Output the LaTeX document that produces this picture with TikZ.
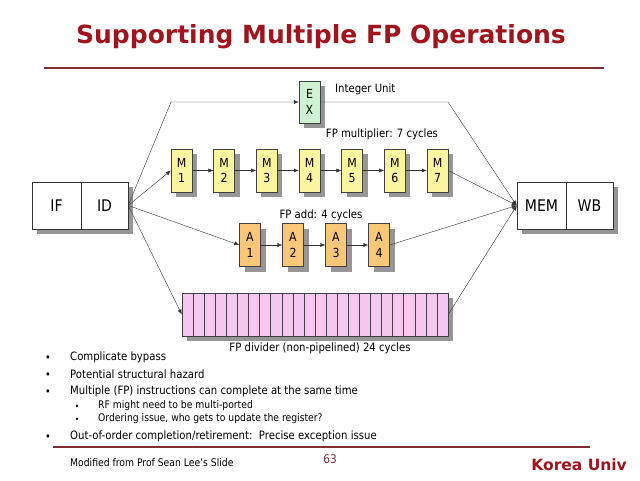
\documentclass[tikz,border=0pt]{standalone}
\usepackage{fontspec}
\setmainfont{DejaVu Sans}[FakeStretch=0.88]
\newfontfamily\headfont{DejaVu Sans}
\usetikzlibrary{shadows,arrows.meta}
\definecolor{titlered}{RGB}{160,20,30}
\definecolor{rulered}{RGB}{130,45,50}
\definecolor{exgreen}{RGB}{206,242,210}
\definecolor{mulyellow}{RGB}{250,246,160}
\definecolor{addorange}{RGB}{248,200,120}
\definecolor{divpink}{RGB}{245,200,242}
\definecolor{shadowgray}{RGB}{150,150,150}

\tikzset{
  boxshadow/.style={drop shadow={shadow xshift=5pt, shadow yshift=-5pt, fill=shadowgray, opacity=1}},
  unit/.style={draw=black!75, boxshadow, minimum width=21pt, minimum height=43pt, inner sep=0pt, align=center, font=\fontsize{12.5}{15.5}\selectfont},
  stage/.style={draw=black!80, fill=white, boxshadow, minimum height=47pt, inner sep=0pt, font=\fontsize{16}{18}\selectfont},
  flow/.style={black!80, -{Latex[length=5pt,width=4pt]}},
  link/.style={black!80},
  lbl/.style={font=\fontsize{11.5}{13}\selectfont, inner sep=0pt},
  item/.style={anchor=west, inner sep=0pt, font=\fontsize{11.5}{13}\selectfont},
  subitem/.style={anchor=west, inner sep=0pt, font=\fontsize{10.5}{12}\selectfont},
}

\begin{document}
\begin{tikzpicture}[x=1pt, y=-1pt]
    \useasboundingbox (0,0) rectangle (640,480);

    % Title
    \node (title) [titlered, font=\fontsize{25}{30}\headfont\bfseries] at (321,37) {Supporting Multiple FP Operations};
    \draw[rulered, line width=1.2pt] (44,68) -- (604,68);

    % Front and back stages
    \node (if) [stage, minimum width=49pt] at (56.5,205.5) {IF};
    \node (id) [stage, minimum width=47pt] at (104.5,205.5) {ID};
    \node (mem) [stage, minimum width=49pt] at (541.5,205.5) {MEM};
    \node (wb) [stage, minimum width=47pt] at (589.5,205.5) {WB};

    % Integer unit
    \node (ex) [unit, fill=exgreen, minimum height=42pt] at (309.5,102) {E\\X};
    \coordinate (exin) at (171,102);
    \coordinate (exout) at (448,102);
    \draw[flow] (id.east) -- (exin) -- (ex.west);
    \draw[flow] (ex.east) -- (exout) -- (mem.west);
    \node (intlbl) [lbl, anchor=west] at (335,89) {Integer Unit};

    % FP multiplier
    \foreach \i in {1,...,7}
        \node (m\i) [unit, fill=mulyellow] at ({181.5+(\i-1)*42.67},170.5) {M\\\i};
    \foreach \i [evaluate=\i as \j using int(\i+1)] in {1,...,6}
        \draw[flow] (m\i.east) -- (m\j.west);
    \draw[flow] (id.east) -- (m1.west);
    \draw[flow] (m7.east) -- (mem.west);
    \node (mullbl) [lbl] at (382,134) {FP multiplier: 7 cycles};

    % FP adder
    \foreach \i in {1,...,4}
        \node (a\i) [unit, fill=addorange] at ({250+(\i-1)*43},245) {A\\\i};
    \foreach \i [evaluate=\i as \j using int(\i+1)] in {1,...,3}
        \draw[flow] (a\i.east) -- (a\j.west);
    \draw[flow] (id.east) -- (a1.west);
    \draw[flow] (a4.east) -- (mem.west);
    \node (addlbl) [lbl] at (321,215) {FP add: 4 cycles};

    % FP divider
    \node (div) [draw=black!75, fill=divpink, boxshadow, minimum width=266pt, minimum height=43pt, inner sep=0pt] at (315,314.5) {};
    \foreach \i in {1,...,23}
        \draw[black!75] ({182+\i*266/24},293) -- ({182+\i*266/24},336);
    \draw[flow] (id.east) -- (div.west);
    \draw[flow] (div.east) -- (mem.west);
    \node (divlbl) [lbl] at (320,348) {FP divider (non-pipelined) 24 cycles};

    % Notes
    \foreach \y in {357,374,391,436}
        \node (dot\y) [font=\fontsize{11}{12}\selectfont, inner sep=0pt] at (48,\y+1.5) {•};
    \foreach \y in {406,419}
        \node (sdot\y) [font=\fontsize{8.5}{9}\selectfont, inner sep=0pt] at (77,\y+1) {•};
    \node (n1) [item] at (70,357) {Complicate bypass};
    \node (n2) [item] at (70,374) {Potential structural hazard};
    \node (n3) [item] at (70,391) {Multiple (FP) instructions can complete at the same time};
    \node (n4) [subitem] at (98,406) {RF might need to be multi-ported};
    \node (n5) [subitem] at (98,419) {Ordering issue, who gets to update the register?};
    \node (n6) [item] at (70,436) {Out-of-order completion/retirement:\ \ Precise exception issue};

    % Footer
    \draw[rulered, line width=1.2pt] (53,447) -- (590,447);
    \node (src) [anchor=west, inner sep=0pt, font=\fontsize{10.5}{12}\selectfont] at (70,463) {Modified from Prof Sean Lee’s Slide};
    \node (page) [rulered, inner sep=0pt, font=\fontsize{12}{14}\selectfont] at (330,459) {63};
    \node (univ) [titlered, anchor=east, inner sep=0pt, font=\fontsize{15.5}{18}\headfont\bfseries] at (627,465) {Korea Univ};
\end{tikzpicture}
\end{document}
